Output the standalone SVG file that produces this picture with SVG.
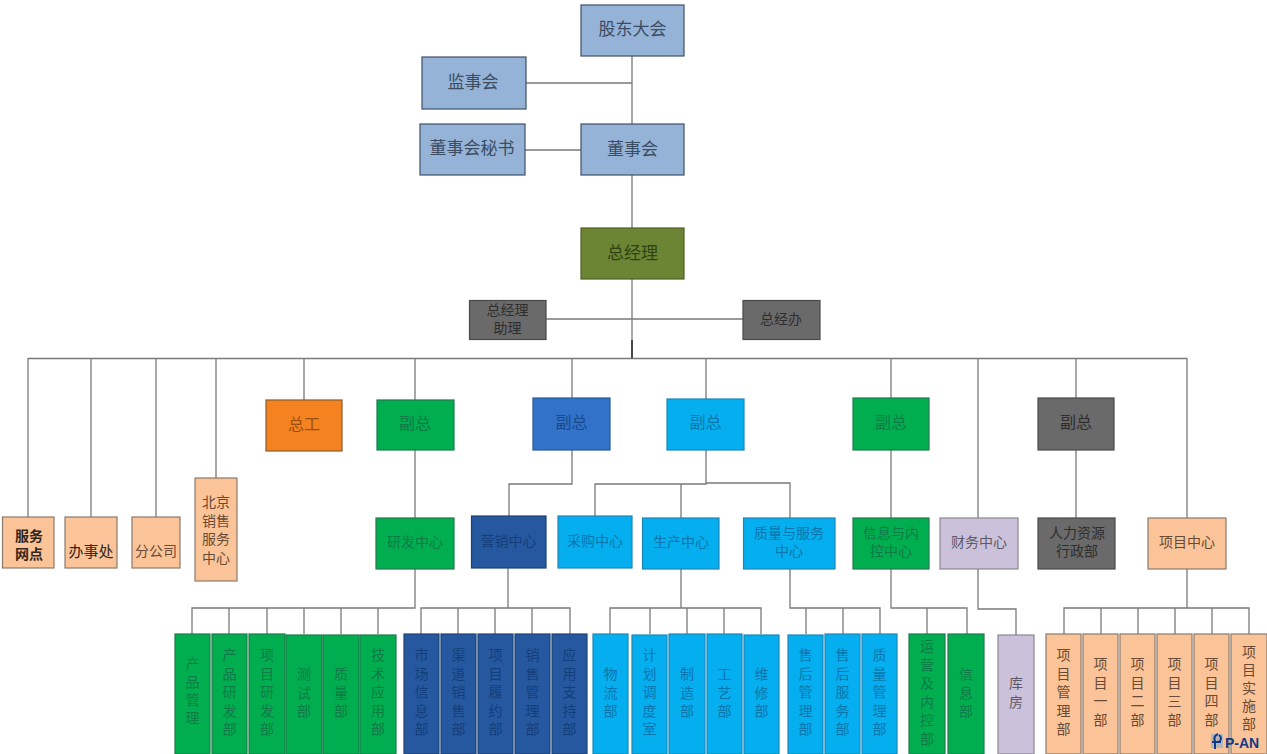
<svg xmlns="http://www.w3.org/2000/svg" width="1267" height="754" viewBox="0 0 1267 754">
<style>
text{font-family:"Noto Sans CJK SC","Noto Sans CJK TC",sans-serif;text-anchor:middle;font-size:14px}
rect{stroke-width:1.2}
.l{font-size:17px}.m{font-size:16px}.s{font-size:15px}
.bg{fill:#95b3d7;stroke:#3f5068}.bgt{fill:#3c4c62}
.ol{fill:#6b8535;stroke:#4d6026}.olt{fill:#2f4210}
.gy{fill:#6a6a6a;stroke:#4a4a4a}.gyt{fill:#2e2e2e}
.pc{fill:#fac498;stroke:#8a7a6c}.pct{fill:#6a4a35}.pcd{fill:#33261c}
.or{fill:#f58220;stroke:#8a5a2c}.ort{fill:#9c4f0c}
.gr{fill:#00ae50;stroke:#1f7a4a}.grt{fill:#0e7a45}
.bl{fill:#3272c8;stroke:#275a9c}.blt{fill:#17498f}
.db{fill:#26589f;stroke:#1c4273}.dbt{fill:#123f7c}
.lb{fill:#05aeee;stroke:#1b86b8}.lbt{fill:#0a75ad}
.lc{fill:#ccc1da;stroke:#8b8695}.lct{fill:#5f5a69}
#connectors path{fill:none;stroke:#7a7a7a;stroke-width:1.3}
</style>
<g id="connectors">
<path d="M632 56V358M526 83H632M525 150H581M546 319H743"/>
<path d="M28 358.5H1187M28 358V517M91 358V517M156 358V517M216 358V478M304 358V400M415 358V400M572 358V398M706 358V399M891 358V398M978 358V518M1076 358V398M1187 358V518"/>
<path d="M415 450V518M572 450V484H509V516M706 450V484H595V516M681 484V518M706 483H790V518M891 450V518M1076 450V518"/>
<path d="M415 569V608H192V634M229 608V634M267 608V634M304 608V634M341 608V634M378 608V634"/>
<path d="M508 568V608M421 634V608H570V634M458 608V634M495 608V634M532 608V634"/>
<path d="M681 569V608M610 634V608H761V634M650 608V634M687 608V634M724 608V634"/>
<path d="M790 569V608H880V634M806 608V634M843 608V634"/>
<path d="M891 569V608H967V634M927 608V634"/>
<path d="M978 569V609H1016V635"/>
<path d="M1187 569V608M1064 634V608H1249V634M1101 608V634M1138 608V634M1175 608V634M1212 608V634"/>
<path d="M632 340V358" style="stroke:#333;stroke-width:1.6"/>
</g>
<g id="n1"><rect class="bg" x="581" y="5" width="103" height="51"/><text class="l bgt" x="632.500" y="35">股东大会</text></g>
<g id="n2"><rect class="bg" x="422" y="57" width="104" height="52"/><text class="l bgt" x="473" y="88">监事会</text></g>
<g id="n3"><rect class="bg" x="420" y="124" width="105" height="51"/><text class="l bgt" x="472" y="154">董事会秘书</text></g>
<g id="n4"><rect class="bg" x="581" y="124" width="103" height="51"/><text class="l bgt" x="632.500" y="155">董事会</text></g>
<g id="n5"><rect class="ol" x="581" y="228" width="103" height="51"/><text class="l olt" x="632.500" y="259">总经理</text></g>
<g id="n6"><rect class="gy" x="469.500" y="300.500" width="76.500" height="39"/><text class="gyt" x="507.500" y="315">总经理<tspan x="507.500" y="333">助理</tspan></text></g>
<g id="n7"><rect class="gy" x="743" y="300.500" width="77" height="39"/><text class="gyt" x="781" y="324">总经办</text></g>
<g id="n8"><rect class="pc" x="2.500" y="517" width="51.500" height="51"/><text class="pcd" x="29" y="541" font-weight="700">服务<tspan x="29" y="559">网点</tspan></text></g>
<g id="n9"><rect class="pc" x="65" y="517" width="52" height="51"/><text class="s pcd" x="91" y="557">办事处</text></g>
<g id="n10"><rect class="pc" x="132" y="517" width="48" height="51"/><text class="pct" x="156" y="556">分公司</text></g>
<g id="n11"><rect class="pc" x="195" y="478" width="42" height="103"/><text class="pct" x="216" y="507">北京<tspan x="216" y="525.500">销售</tspan><tspan x="216" y="544">服务</tspan><tspan x="216" y="562.500">中心</tspan></text></g>
<g id="n12"><rect class="or" x="266" y="400" width="76" height="51"/><text class="m ort" x="304" y="430">总工</text></g>
<g id="n13"><rect class="gr" x="377" y="400" width="77" height="50"/><text class="m grt" x="415" y="429">副总</text></g>
<g id="n14"><rect class="bl" x="533" y="398" width="77" height="52"/><text class="m blt" x="571.500" y="428">副总</text></g>
<g id="n15"><rect class="lb" x="667" y="399" width="77" height="51"/><text class="m lbt" x="705.500" y="428">副总</text></g>
<g id="n16"><rect class="gr" x="853" y="398" width="76" height="52"/><text class="m grt" x="891" y="428">副总</text></g>
<g id="n17"><rect class="gy" x="1038" y="398" width="76" height="52"/><text class="m gyt" x="1076" y="428">副总</text></g>
<g id="n18"><rect class="gr" x="376" y="518" width="78" height="51"/><text class="grt" x="415" y="547">研发中心</text></g>
<g id="n19"><rect class="db" x="471.500" y="516" width="74.500" height="52"/><text class="dbt" x="508.500" y="546">营销中心</text></g>
<g id="n20"><rect class="lb" x="558" y="516" width="74" height="52"/><text class="lbt" x="595" y="546">采购中心</text></g>
<g id="n21"><rect class="lb" x="642.500" y="518" width="76.500" height="51"/><text class="lbt" x="681" y="547">生产中心</text></g>
<g id="n22"><rect class="lb" x="743.500" y="518" width="91.500" height="51"/><text class="lbt" x="789" y="538">质量与服务<tspan x="789" y="556">中心</tspan></text></g>
<g id="n23"><rect class="gr" x="853" y="518" width="76" height="51"/><text class="grt" x="891" y="538">信息与内<tspan x="891" y="556">控中心</tspan></text></g>
<g id="n24"><rect class="lc" x="940" y="518" width="78" height="51"/><text class="lct" x="979" y="547">财务中心</text></g>
<g id="n25"><rect class="gy" x="1038" y="518" width="77" height="51"/><text class="gyt" x="1077" y="538">人力资源<tspan x="1077" y="556">行政部</tspan></text></g>
<g id="n26"><rect class="pc" x="1148" y="518" width="78" height="51"/><text class="pct" x="1187" y="547">项目中心</text></g>

<g id="b1"><rect class="gr" x="175" y="634" width="35" height="120"/><text class="grt" x="192.500" y="669">产<tspan x="192.500" y="687">品</tspan><tspan x="192.500" y="705">管</tspan><tspan x="192.500" y="723">理</tspan></text></g>
<g id="b2"><rect class="gr" x="212" y="634" width="35" height="120"/><text class="grt" x="229.500" y="660">产<tspan x="229.500" y="678.600">品</tspan><tspan x="229.500" y="697.200">研</tspan><tspan x="229.500" y="715.800">发</tspan><tspan x="229.500" y="734.400">部</tspan></text></g>
<g id="b3"><rect class="gr" x="249" y="634" width="36" height="120"/><text class="grt" x="267" y="660">项<tspan x="267" y="678.600">目</tspan><tspan x="267" y="697.200">研</tspan><tspan x="267" y="715.800">发</tspan><tspan x="267" y="734.400">部</tspan></text></g>
<g id="b4"><rect class="gr" x="286" y="635" width="36" height="119"/><text class="grt" x="304" y="679">测<tspan x="304" y="697.600">试</tspan><tspan x="304" y="716.200">部</tspan></text></g>
<g id="b5"><rect class="gr" x="323" y="635" width="36" height="119"/><text class="grt" x="341" y="679">质<tspan x="341" y="697.600">量</tspan><tspan x="341" y="716.200">部</tspan></text></g>
<g id="b6"><rect class="gr" x="360" y="635" width="36" height="119"/><text class="grt" x="378" y="660">技<tspan x="378" y="678.600">术</tspan><tspan x="378" y="697.200">应</tspan><tspan x="378" y="715.800">用</tspan><tspan x="378" y="734.400">部</tspan></text></g>
<g id="b7"><rect class="db" x="404" y="634" width="35" height="120"/><text class="dbt" x="421.500" y="660">市<tspan x="421.500" y="678.600">场</tspan><tspan x="421.500" y="697.200">信</tspan><tspan x="421.500" y="715.800">息</tspan><tspan x="421.500" y="734.400">部</tspan></text></g>
<g id="b8"><rect class="db" x="441" y="634" width="35" height="120"/><text class="dbt" x="458.500" y="660">渠<tspan x="458.500" y="678.600">道</tspan><tspan x="458.500" y="697.200">销</tspan><tspan x="458.500" y="715.800">售</tspan><tspan x="458.500" y="734.400">部</tspan></text></g>
<g id="b9"><rect class="db" x="478" y="634" width="35" height="120"/><text class="dbt" x="495.500" y="660">项<tspan x="495.500" y="678.600">目</tspan><tspan x="495.500" y="697.200">履</tspan><tspan x="495.500" y="715.800">约</tspan><tspan x="495.500" y="734.400">部</tspan></text></g>
<g id="b10"><rect class="db" x="515" y="634" width="35" height="120"/><text class="dbt" x="532.500" y="660">销<tspan x="532.500" y="678.600">售</tspan><tspan x="532.500" y="697.200">管</tspan><tspan x="532.500" y="715.800">理</tspan><tspan x="532.500" y="734.400">部</tspan></text></g>
<g id="b11"><rect class="db" x="552" y="634" width="35" height="120"/><text class="dbt" x="569.500" y="660">应<tspan x="569.500" y="678.600">用</tspan><tspan x="569.500" y="697.200">支</tspan><tspan x="569.500" y="715.800">持</tspan><tspan x="569.500" y="734.400">部</tspan></text></g>
<g id="b12"><rect class="lb" x="593" y="634" width="35" height="120"/><text class="lbt" x="610.500" y="679">物<tspan x="610.500" y="697.600">流</tspan><tspan x="610.500" y="716.200">部</tspan></text></g>
<g id="b13"><rect class="lb" x="632" y="635" width="35" height="119"/><text class="lbt" x="649.500" y="660">计<tspan x="649.500" y="678.600">划</tspan><tspan x="649.500" y="697.200">调</tspan><tspan x="649.500" y="715.800">度</tspan><tspan x="649.500" y="734.400">室</tspan></text></g>
<g id="b14"><rect class="lb" x="669" y="634" width="36" height="120"/><text class="lbt" x="687" y="679">制<tspan x="687" y="697.600">造</tspan><tspan x="687" y="716.200">部</tspan></text></g>
<g id="b15"><rect class="lb" x="707" y="634" width="35" height="120"/><text class="lbt" x="724.500" y="679">工<tspan x="724.500" y="697.600">艺</tspan><tspan x="724.500" y="716.200">部</tspan></text></g>
<g id="b16"><rect class="lb" x="744" y="635" width="35" height="119"/><text class="lbt" x="761.500" y="679">维<tspan x="761.500" y="697.600">修</tspan><tspan x="761.500" y="716.200">部</tspan></text></g>
<g id="b17"><rect class="lb" x="788" y="635" width="35" height="119"/><text class="lbt" x="805.500" y="660">售<tspan x="805.500" y="678.600">后</tspan><tspan x="805.500" y="697.200">管</tspan><tspan x="805.500" y="715.800">理</tspan><tspan x="805.500" y="734.400">部</tspan></text></g>
<g id="b18"><rect class="lb" x="825" y="634" width="35" height="120"/><text class="lbt" x="842.500" y="660">售<tspan x="842.500" y="678.600">后</tspan><tspan x="842.500" y="697.200">服</tspan><tspan x="842.500" y="715.800">务</tspan><tspan x="842.500" y="734.400">部</tspan></text></g>
<g id="b19"><rect class="lb" x="862" y="634" width="35" height="120"/><text class="lbt" x="879.500" y="660">质<tspan x="879.500" y="678.600">量</tspan><tspan x="879.500" y="697.200">管</tspan><tspan x="879.500" y="715.800">理</tspan><tspan x="879.500" y="734.400">部</tspan></text></g>
<g id="b20"><rect class="gr" x="909" y="634" width="36" height="120"/><text class="grt" x="927" y="651">运<tspan x="927" y="669.600">营</tspan><tspan x="927" y="688.200">及</tspan><tspan x="927" y="706.800">内</tspan><tspan x="927" y="725.400">控</tspan><tspan x="927" y="744">部</tspan></text></g>
<g id="b21"><rect class="gr" x="948" y="634" width="36" height="120"/><text class="grt" x="966" y="679">信<tspan x="966" y="697.600">息</tspan><tspan x="966" y="716.200">部</tspan></text></g>
<g id="b22"><rect class="lc" x="998" y="635" width="36" height="119"/><text class="lct" x="1016" y="688">库<tspan x="1016" y="707">房</tspan></text></g>
<g id="b23"><rect class="pc" x="1046" y="634" width="35" height="120"/><text class="pct" x="1063.500" y="660">项<tspan x="1063.500" y="678.600">目</tspan><tspan x="1063.500" y="697.200">管</tspan><tspan x="1063.500" y="715.800">理</tspan><tspan x="1063.500" y="734.400">部</tspan></text></g>
<g id="b24"><rect class="pc" x="1083" y="634" width="35" height="120"/><text class="pct" x="1100.500" y="669">项<tspan x="1100.500" y="687.600">目</tspan><tspan x="1100.500" y="706.200">一</tspan><tspan x="1100.500" y="724.800">部</tspan></text></g>
<g id="b25"><rect class="pc" x="1120" y="634" width="35" height="120"/><text class="pct" x="1137.500" y="669">项<tspan x="1137.500" y="687.600">目</tspan><tspan x="1137.500" y="706.200">二</tspan><tspan x="1137.500" y="724.800">部</tspan></text></g>
<g id="b26"><rect class="pc" x="1157" y="634" width="35" height="120"/><text class="pct" x="1174.500" y="669">项<tspan x="1174.500" y="687.600">目</tspan><tspan x="1174.500" y="706.200">三</tspan><tspan x="1174.500" y="724.800">部</tspan></text></g>
<g id="b27"><rect class="pc" x="1194" y="634" width="35" height="120"/><text class="pct" x="1211.500" y="669">项<tspan x="1211.500" y="687.600">目</tspan><tspan x="1211.500" y="706.200">四</tspan><tspan x="1211.500" y="724.800">部</tspan></text></g>
<g id="b28"><rect class="pc" x="1231" y="634" width="36" height="120"/><text class="pct" x="1249" y="657">项<tspan x="1249" y="675">目</tspan><tspan x="1249" y="693">实</tspan><tspan x="1249" y="711">施</tspan><tspan x="1249" y="729">部</tspan></text></g>
<g id="logo"><rect x="1211" y="734" width="12" height="14" fill="#b5b5b5"/><path d="M1212 742H1221M1218 734Q1213 736 1215 741L1215 749M1219 735Q1223 738 1219 742" fill="none" stroke="#123a86" stroke-width="2"/><text x="1242" y="748" style="font-family:'Liberation Sans',sans-serif;font-size:14px;font-weight:700" fill="#123a86">P-AN</text></g>
</svg>
